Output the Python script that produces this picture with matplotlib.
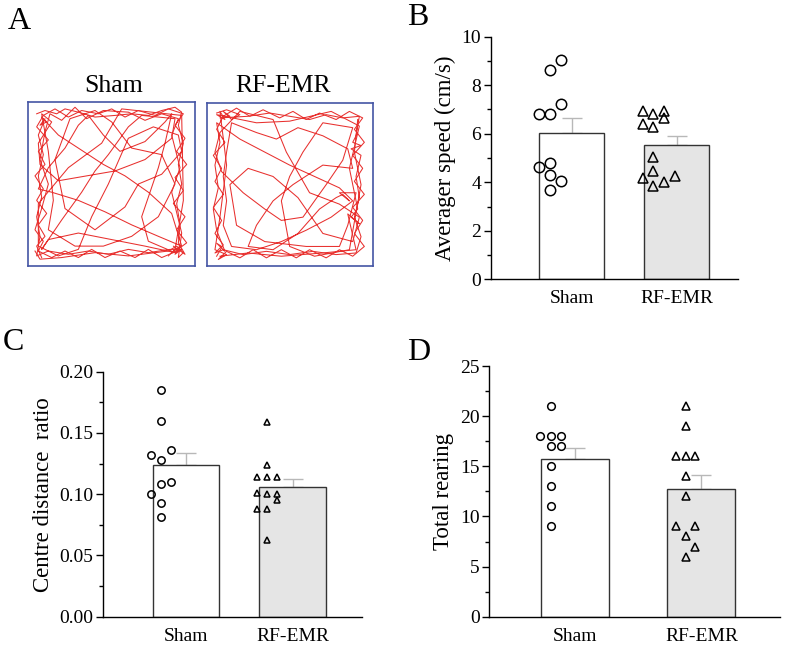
import matplotlib
matplotlib.use("Agg")
from matplotlib import pyplot as plt
from matplotlib.ticker import MultipleLocator, FormatStrFormatter

plt.rcParams['font.family'] = ['Liberation Serif', 'DejaVu Serif']

# groups
groups = ["Sham", "RF-EMR"]

# B - average speed (cm/s)
speed_sham = [8.63, 9.04, 6.80, 6.80, 7.21, 4.64, 4.81, 4.31, 4.05, 3.68]
speed_rf = [6.94, 6.80, 6.94, 6.39, 6.29, 6.66, 5.05, 4.48, 4.19, 3.85, 4.02, 4.27]
speed_mean = [6.03, 5.55]
speed_sem = [0.62, 0.35]

# C - centre distance ratio
ratio_sham = [0.185, 0.160, 0.132, 0.128, 0.136, 0.100, 0.108, 0.110, 0.093, 0.081]
ratio_rf = [0.159, 0.124, 0.114, 0.114, 0.114, 0.101, 0.100, 0.100, 0.095, 0.088, 0.088, 0.063]
ratio_mean = [0.124, 0.106]
ratio_sem = [0.010, 0.0068]

# D - total rearing
rear_sham = [21, 18, 18, 18, 17, 17, 15, 13, 11, 9]
rear_rf = [21, 19, 16, 16, 16, 14, 12, 9, 9, 8, 7, 6]
rear_mean = [15.7, 12.75]
rear_sem = [1.17, 1.43]

# horizontal scatter offsets of the dots (layout only)
speed_sham_dx = [-0.208, -0.103, -0.31, -0.208, -0.103, -0.31, -0.208, -0.208, -0.103, -0.208]
speed_rf_dx = [-0.325, -0.224, -0.119, -0.325, -0.224, -0.119, -0.224, -0.224, -0.325, -0.224, -0.119, -0.014]
ratio_sham_dx = [-0.237, -0.237, -0.332, -0.237, -0.143, -0.332, -0.237, -0.143, -0.237, -0.237]
ratio_rf_dx = [-0.242, -0.242, -0.333, -0.242, -0.148, -0.333, -0.242, -0.148, -0.148, -0.333, -0.242, -0.242]
rear_sham_dx = [-0.189, -0.274, -0.189, -0.108, -0.189, -0.108, -0.189, -0.189, -0.189, -0.189]
rear_rf_dx = [-0.124, -0.124, -0.2, -0.124, -0.047, -0.124, -0.124, -0.2, -0.047, -0.124, -0.047, -0.124]

# A - open field tracks, waypoints (box units, y up)
sham_track = [
    (0.05, 0.93), (0.10, 0.95), (0.17, 0.93), (0.22, 0.96), (0.30, 0.94), (0.40, 0.91), (0.52, 0.92),
    (0.62, 0.93), (0.72, 0.92), (0.80, 0.95), (0.88, 0.97), (0.92, 0.94), (0.90, 0.86), (0.93, 0.75),
    (0.90, 0.62), (0.92, 0.50), (0.89, 0.38), (0.91, 0.25), (0.90, 0.14), (0.94, 0.07), (0.87, 0.12),
    (0.90, 0.09), (0.86, 0.08), (0.91, 0.12), (0.88, 0.07), (0.92, 0.10), (0.85, 0.10), (0.72, 0.08),
    (0.60, 0.10), (0.48, 0.07), (0.36, 0.09), (0.24, 0.07), (0.12, 0.09), (0.05, 0.06), (0.07, 0.18),
    (0.05, 0.30), (0.08, 0.42), (0.06, 0.55), (0.09, 0.68), (0.06, 0.80), (0.10, 0.90), (0.07, 0.86),
    (0.11, 0.88), (0.08, 0.91), (0.18, 0.80), (0.30, 0.72), (0.45, 0.62), (0.58, 0.55), (0.72, 0.45),
    (0.86, 0.32), (0.92, 0.12), (0.78, 0.18), (0.62, 0.25), (0.46, 0.33), (0.30, 0.40), (0.14, 0.45),
    (0.06, 0.47), (0.12, 0.60), (0.22, 0.72), (0.30, 0.86), (0.36, 0.92), (0.45, 0.80), (0.55, 0.70),
    (0.70, 0.76), (0.82, 0.88), (0.86, 0.93), (0.82, 0.75), (0.78, 0.60), (0.74, 0.48), (0.68, 0.30),
    (0.72, 0.15), (0.88, 0.08), (0.70, 0.12), (0.50, 0.16), (0.30, 0.20), (0.12, 0.16), (0.08, 0.10),
    (0.20, 0.28), (0.32, 0.45), (0.40, 0.58), (0.48, 0.68), (0.60, 0.85), (0.68, 0.92), (0.88, 0.90),
    (0.86, 0.78), (0.70, 0.65), (0.52, 0.58), (0.35, 0.55), (0.18, 0.52), (0.07, 0.62), (0.06, 0.75),
    (0.14, 0.88), (0.08, 0.93), (0.12, 0.70), (0.15, 0.40), (0.12, 0.22), (0.28, 0.12), (0.45, 0.12),
    (0.62, 0.18), (0.78, 0.30), (0.88, 0.50), (0.80, 0.68), (0.62, 0.72), (0.50, 0.88), (0.40, 0.95),
    (0.25, 0.90), (0.16, 0.65), (0.22, 0.35), (0.40, 0.22), (0.58, 0.36), (0.66, 0.50), (0.80, 0.56),
    (0.92, 0.70), (0.90, 0.80), (0.75, 0.85), (0.60, 0.78), (0.48, 0.50), (0.38, 0.30), (0.30, 0.10),
    (0.18, 0.06), (0.06, 0.12), (0.06, 0.38), (0.24, 0.60), (0.44, 0.75), (0.56, 0.96), (0.92, 0.92),
    (0.93, 0.40), (0.88, 0.10), (0.84, 0.06),
]
sham_wall = [
    (0.08, 0.05), (0.05, 0.12), (0.10, 0.18), (0.06, 0.25), (0.11, 0.32), (0.05, 0.40), (0.09, 0.47),
    (0.04, 0.55), (0.10, 0.62), (0.06, 0.70), (0.12, 0.77), (0.05, 0.85), (0.09, 0.92), (0.16, 0.96),
    (0.24, 0.91), (0.32, 0.95), (0.42, 0.93), (0.50, 0.96), (0.58, 0.91), (0.66, 0.95), (0.76, 0.92),
    (0.84, 0.96), (0.93, 0.93), (0.88, 0.86), (0.94, 0.78), (0.89, 0.70), (0.95, 0.62), (0.88, 0.54),
    (0.93, 0.46), (0.87, 0.38), (0.94, 0.30), (0.89, 0.22), (0.95, 0.14), (0.87, 0.08), (0.80, 0.05),
    (0.72, 0.10), (0.64, 0.05), (0.55, 0.09), (0.46, 0.05), (0.38, 0.10), (0.30, 0.05), (0.22, 0.09),
    (0.14, 0.05), (0.06, 0.09), (0.09, 0.15), (0.04, 0.22), (0.08, 0.35), (0.12, 0.50), (0.07, 0.65),
    (0.10, 0.82), (0.13, 0.93), (0.20, 0.89), (0.28, 0.97), (0.35, 0.90), (0.45, 0.95),
    (0.60, 0.94), (0.70, 0.89), (0.80, 0.93), (0.90, 0.90), (0.86, 0.80), (0.91, 0.60), (0.86, 0.45),
    (0.92, 0.20), (0.90, 0.05), (0.93, 0.08), (0.89, 0.12), (0.84, 0.09), (0.60, 0.06), (0.40, 0.08),
    (0.20, 0.05), (0.07, 0.04), (0.04, 0.09),
]
rf_track = [
    (0.06, 0.94), (0.12, 0.96), (0.20, 0.93), (0.15, 0.90), (0.10, 0.95), (0.14, 0.92), (0.08, 0.91),
    (0.25, 0.92), (0.38, 0.94), (0.50, 0.92), (0.62, 0.90), (0.72, 0.93), (0.82, 0.91), (0.92, 0.92),
    (0.90, 0.80), (0.88, 0.76), (0.93, 0.74), (0.87, 0.72), (0.93, 0.68), (0.90, 0.55), (0.92, 0.42),
    (0.89, 0.30), (0.93, 0.18), (0.90, 0.08), (0.78, 0.07), (0.64, 0.09), (0.50, 0.07), (0.36, 0.09),
    (0.22, 0.07), (0.10, 0.10), (0.05, 0.08), (0.09, 0.12), (0.06, 0.14), (0.11, 0.09), (0.06, 0.22),
    (0.04, 0.35), (0.07, 0.48), (0.05, 0.62), (0.08, 0.76), (0.06, 0.88), (0.20, 0.78), (0.35, 0.70),
    (0.50, 0.62), (0.65, 0.55), (0.80, 0.48), (0.88, 0.40), (0.75, 0.30), (0.60, 0.22), (0.45, 0.15),
    (0.30, 0.10), (0.15, 0.12), (0.10, 0.25), (0.12, 0.40), (0.10, 0.55), (0.12, 0.70), (0.15, 0.88),
    (0.30, 0.82), (0.42, 0.78), (0.55, 0.85), (0.70, 0.80), (0.85, 0.72), (0.88, 0.60), (0.70, 0.62),
    (0.52, 0.50), (0.40, 0.40), (0.30, 0.25), (0.25, 0.12), (0.40, 0.10), (0.55, 0.20), (0.68, 0.35),
    (0.78, 0.42), (0.82, 0.44), (0.86, 0.40), (0.80, 0.45), (0.90, 0.45), (0.85, 0.25), (0.80, 0.12),
    (0.60, 0.12), (0.35, 0.15), (0.18, 0.25), (0.14, 0.50), (0.25, 0.60), (0.40, 0.55), (0.55, 0.42),
    (0.70, 0.20), (0.88, 0.15), (0.92, 0.30), (0.80, 0.38), (0.62, 0.45), (0.48, 0.70), (0.40, 0.90),
    (0.20, 0.95), (0.08, 0.82), (0.05, 0.70), (0.09, 0.58), (0.22, 0.45), (0.35, 0.35), (0.45, 0.28),
    (0.58, 0.30), (0.72, 0.50), (0.82, 0.65), (0.88, 0.85), (0.70, 0.88), (0.58, 0.70), (0.50, 0.55),
    (0.45, 0.40), (0.50, 0.12), (0.65, 0.06), (0.86, 0.10), (0.93, 0.50), (0.89, 0.70), (0.91, 0.90),
]
rf_wall = [
    (0.06, 0.06), (0.10, 0.13), (0.05, 0.20), (0.09, 0.28), (0.04, 0.36), (0.10, 0.44), (0.05, 0.52),
    (0.09, 0.60), (0.04, 0.68), (0.11, 0.76), (0.06, 0.84), (0.10, 0.92), (0.18, 0.97), (0.26, 0.92),
    (0.34, 0.96), (0.44, 0.91), (0.52, 0.95), (0.60, 0.90), (0.68, 0.94), (0.78, 0.90), (0.86, 0.95),
    (0.94, 0.91), (0.89, 0.84), (0.95, 0.76), (0.88, 0.68), (0.94, 0.60), (0.89, 0.52), (0.95, 0.44),
    (0.88, 0.36), (0.94, 0.28), (0.89, 0.20), (0.95, 0.12), (0.88, 0.06), (0.80, 0.10), (0.72, 0.05),
    (0.62, 0.10), (0.54, 0.05), (0.45, 0.10), (0.36, 0.05), (0.28, 0.10), (0.20, 0.05), (0.12, 0.09),
    (0.07, 0.04), (0.12, 0.07), (0.05, 0.10), (0.08, 0.30), (0.12, 0.62), (0.08, 0.95), (0.11, 0.90),
    (0.06, 0.93), (0.30, 0.88), (0.50, 0.89), (0.75, 0.95), (0.92, 0.86), (0.86, 0.60), (0.91, 0.35),
    (0.87, 0.30), (0.92, 0.26), (0.85, 0.32), (0.90, 0.10), (0.70, 0.08), (0.45, 0.06), (0.25, 0.08),
    (0.08, 0.06),
]

fig = plt.figure(figsize=(7.87, 6.47), dpi=100)

# ---- panel A ----
box_color = "#4455a4"
track_color = "#e8302e"
for rect, tracks, name, tx in [([0.036, 0.5893, 0.2118, 0.2525], [sham_track, sham_wall], groups[0], 0.1445),
                               ([0.2626, 0.5889, 0.2109, 0.2515], [rf_track, rf_wall], groups[1], 0.3595)]:
    ax = fig.add_axes(rect)
    for track in tracks:
        ax.plot([p[0] for p in track], [p[1] for p in track], color=track_color, lw=0.75)
    ax.set_xlim(0, 1)
    ax.set_ylim(0, 1)
    ax.set_xticks([])
    ax.set_yticks([])
    for s in ax.spines.values():
        s.set_color(box_color)
        s.set_linewidth(1.2)
    fig.text(tx, 0.858, name, ha="center", va="baseline", fontsize=18.5)


def bar_panel(rect, xlim, width, means, sems, pts_a, dx_a, pts_b, dx_b, ms, ylim, major, minor, fmt, ylabel):
    ax = fig.add_axes(rect)
    xs = [1, 2]
    ax.bar(xs, means, width=width, color=["white", "#e5e5e5"], edgecolor="#333333", linewidth=1.0, zorder=2)
    ax.errorbar(xs, means, yerr=[[0, 0], sems], fmt="none", ecolor="#b8b8b8", elinewidth=1.0,
                capsize=7, capthick=1.0, zorder=1)
    ax.plot([1 + d for d in dx_a], pts_a, linestyle="none", marker="o", ms=ms, mfc="none",
            mec="black", mew=1.1, zorder=3)
    ax.plot([2 + d for d in dx_b], pts_b, linestyle="none", marker="^", ms=ms * 0.95, mfc="none",
            mec="black", mew=1.1, zorder=3)
    ax.set_xlim(*xlim)
    ax.set_ylim(*ylim)
    ax.set_xticks(xs)
    ax.set_xticklabels(groups, fontsize=14)
    ax.tick_params(axis="x", length=0, pad=8)
    ax.yaxis.set_major_locator(MultipleLocator(major))
    ax.yaxis.set_minor_locator(MultipleLocator(minor))
    ax.yaxis.set_major_formatter(FormatStrFormatter(fmt))
    ax.tick_params(axis="y", which="major", length=5, width=1, labelsize=14, pad=2)
    ax.tick_params(axis="y", which="minor", length=3, width=1)
    ax.spines["top"].set_visible(False)
    ax.spines["right"].set_visible(False)
    ax.spines["left"].set_linewidth(1.0)
    ax.spines["bottom"].set_linewidth(1.0)
    ax.set_ylabel(ylabel, fontsize=16.5)
    return ax


bar_panel([0.6235, 0.5683, 0.3142, 0.375], (0.228, 2.583), 0.62, speed_mean, speed_sem,
          speed_sham, speed_sham_dx, speed_rf, speed_rf_dx, 7.5, (0, 10), 2, 1, "%d",
          "Averager speed (cm/s)")
bar_panel([0.1313, 0.0468, 0.3283, 0.3787], (0.22, 2.65), 0.623, ratio_mean, ratio_sem,
          ratio_sham, ratio_sham_dx, ratio_rf, ratio_rf_dx, 5.3, (0, 0.2), 0.05, 0.025, "%.2f",
          "Centre distance  ratio")
bar_panel([0.6217, 0.0468, 0.3694, 0.3875], (0.326, 2.62), 0.537, rear_mean, rear_sem,
          rear_sham, rear_sham_dx, rear_rf, rear_rf_dx, 5.5, (0, 25), 5, 2.5, "%d",
          "Total rearing")

# panel letters
for x, y, s in [(0.010, 0.955, "A"), (0.517, 0.961, "B"), (0.004, 0.459, "C"), (0.517, 0.443, "D")]:
    fig.text(x, y, s, fontsize=23, va="baseline")

fig.savefig("out.png", dpi=100)
